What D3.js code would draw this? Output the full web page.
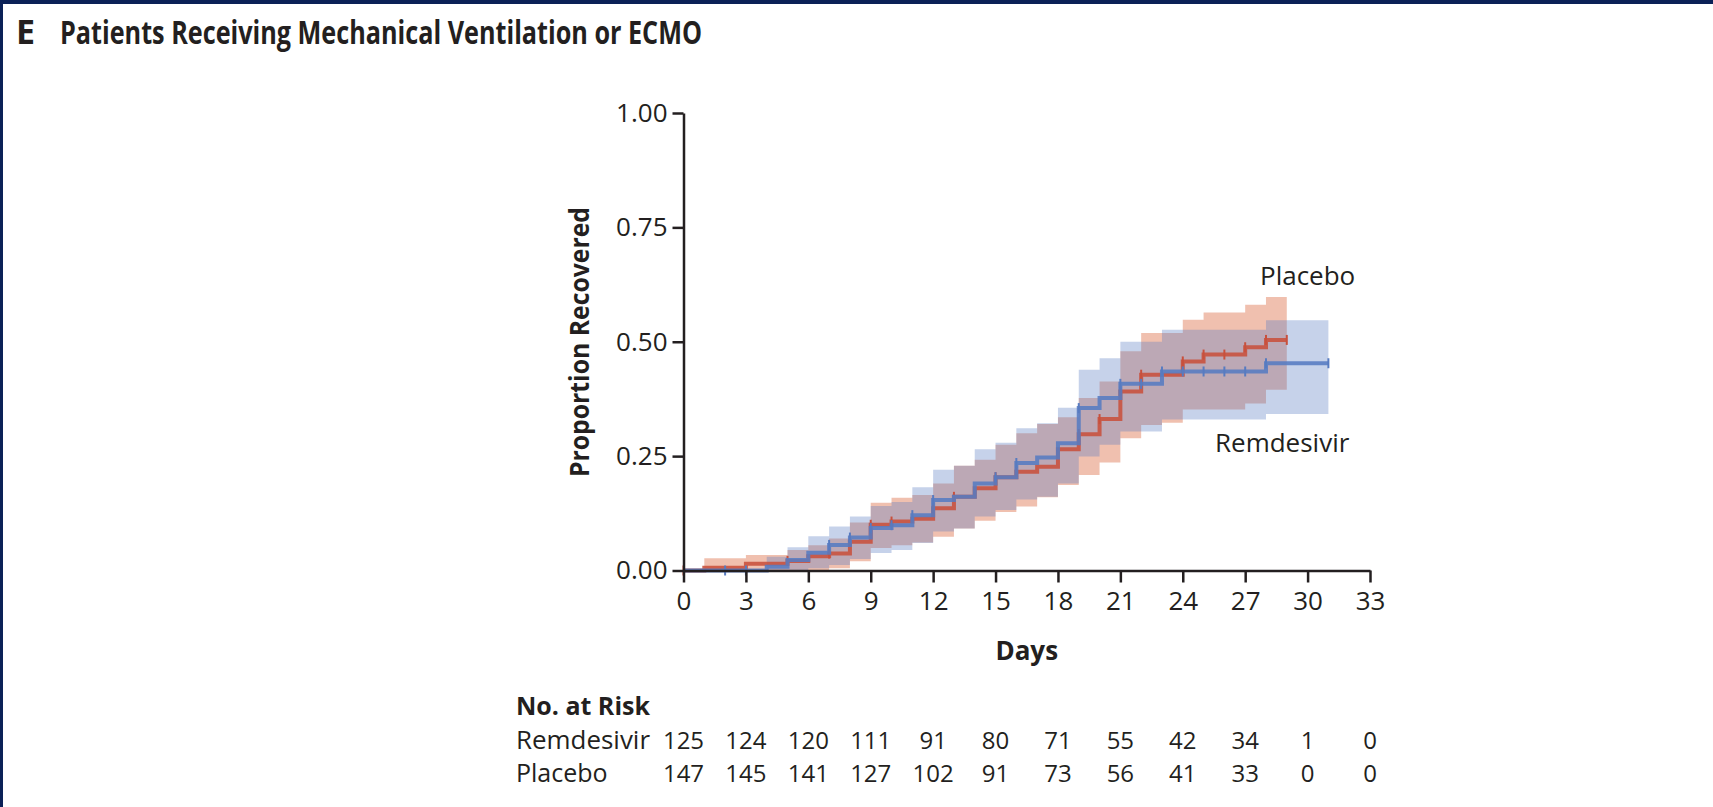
<!DOCTYPE html>
<html>
<head>
<meta charset="utf-8">
<script src="https://cdn.jsdelivr.net/npm/d3@7"></script>
<style>
  html, body { margin: 0; padding: 0; background: #fff; }
  svg { display: block; font-family: "Open Sans", "Noto Sans", sans-serif; }
  .axis path, .axis line { stroke: #231f20; stroke-width: 2.5; }
  .axis text { font-size: 26px; fill: #231f20; font-family: "Open Sans", sans-serif; }
</style>
</head>
<body>
<svg></svg>
<script>
// Remdesivir (blue) step curve with 95% band
var remDays = [0, 4, 5, 6, 7, 8, 9, 10, 11, 12, 13, 14, 15, 16, 17, 18, 19, 20, 21, 22, 23, 24, 25, 26, 27, 28, 31];
var remEst  = [0, .008, .023, .039, .056, .072, .093, .099, .121, .154, .161, .19, .204, .235, .247, .278, .355, .377, .408, .408, .435, .435, .435, .435, .435, .453, .453];
var remLow  = [0, 0, 0, .005, .012, .025, .038, .045, .06, .085, .092, .118, .132, .155, .161, .19, .249, .275, .304, .304, .33, .33, .33, .33, .33, .342, .342];
var remHigh = [0, .03, .051, .075, .096, .118, .141, .15, .182, .22, .229, .265, .279, .311, .322, .356, .439, .464, .5, .5, .526, .526, .526, .526, .526, .547, .547];
var remMarks = [2, 3, 7, 8, 9, 10, 11, 12, 15, 16, 19, 21, 22, 23, 24, 25, 26, 27, 28, 31];

// Placebo (red)
var plaDays = [0, 1, 3, 5, 6, 7, 8, 9, 10, 11, 12, 13, 14, 15, 16, 17, 18, 19, 20, 21, 22, 23, 24, 25, 26, 27, 28, 29];
var plaEst  = [0, .006, .015, .021, .031, .037, .063, .1, .107, .113, .136, .161, .18, .204, .216, .227, .265, .298, .331, .391, .428, .428, .457, .472, .472, .488, .504, .504];
var plaLow  = [0, 0, 0, 0, 0, .005, .02, .049, .055, .061, .074, .092, .109, .128, .14, .16, .187, .209, .236, .289, .318, .323, .352, .352, .352, .365, .395, .395];
var plaHigh = [0, .027, .034, .045, .055, .07, .105, .148, .159, .165, .19, .229, .242, .275, .3, .32, .335, .377, .413, .479, .519, .519, .548, .564, .564, .581, .598, .598];
var plaMarks = [0, 5, 7, 8, 9, 10, 12, 13, 15, 16, 19, 20, 21, 22, 24, 25, 26, 27, 28, 29];

var xTicks = [0, 3, 6, 9, 12, 15, 18, 21, 24, 27, 30, 33];
var yTicks = [0, 0.25, 0.5, 0.75, 1];
var remAtRisk = [125, 124, 120, 111, 91, 80, 71, 55, 42, 34, 1, 0];
var plaAtRisk = [147, 145, 141, 127, 102, 91, 73, 56, 41, 33, 0, 0];

var screen = {width: 1713, height: 807};
var ink = "#231f20";
var blue = "#577bc1";
var red = "#c8503c";

var svg = d3.select("svg")
    .attr("width", screen.width)
    .attr("height", screen.height);

// navy frame edges
svg.append("rect").attr("x", 0).attr("y", 0).attr("width", screen.width).attr("height", 4).attr("fill", "#0b2157");
svg.append("rect").attr("x", 0).attr("y", 0).attr("width", 3).attr("height", screen.height).attr("fill", "#0b2157");

var xScale = d3.scaleLinear().domain([0, 33]).range([683.5, 1370]);
var yScale = d3.scaleLinear().domain([0, 1]).range([570.5, 113]);

var toRows = function(days, est, low, high) {
    return days.map(function(d, i) {
        return {day: d, est: est[i], low: low[i], high: high[i]};
    });
}
var remRows = toRows(remDays, remEst, remLow, remHigh);
var plaRows = toRows(plaDays, plaEst, plaLow, plaHigh);

var band = d3.area()
    .curve(d3.curveStepAfter)
    .x(function(d) { return xScale(d.day); })
    .y0(function(d) { return yScale(d.low); })
    .y1(function(d) { return yScale(d.high); });

var line = d3.line()
    .curve(d3.curveStepAfter)
    .x(function(d) { return xScale(d.day); })
    .y(function(d) { return yScale(d.est); });

var plot = svg.append("g").attr("id", "plot");

plot.append("path").datum(plaRows)
    .attr("d", band)
    .attr("fill", "#dc6e46")
    .attr("fill-opacity", 0.43);

plot.append("path").datum(remRows)
    .attr("d", band)
    .attr("fill", blue)
    .attr("fill-opacity", 0.34);

var stepAt = function(rows, day) {
    var v = 0;
    rows.forEach(function(r) { if (r.day <= day) v = r.est; });
    return v;
}

var drawCurve = function(rows, marks, color) {
    plot.append("path").datum(rows)
        .attr("d", line)
        .attr("fill", "none")
        .attr("stroke", color)
        .attr("stroke-opacity", 0.88)
        .attr("stroke-width", 4);
    plot.selectAll(null)
        .data(marks)
        .enter()
        .append("line")
        .attr("x1", function(d) { return xScale(d); })
        .attr("x2", function(d) { return xScale(d); })
        .attr("y1", function(d) { return yScale(stepAt(rows, d)) - 5; })
        .attr("y2", function(d) { return yScale(stepAt(rows, d)) + 5; })
        .attr("stroke", color)
        .attr("stroke-width", 2);
}
drawCurve(plaRows, plaMarks, red);
drawCurve(remRows, remMarks, blue);

// axes
var yAxis = d3.axisLeft(yScale)
    .tickValues(yTicks)
    .tickFormat(d3.format(".2f"))
    .tickSize(11)
    .tickSizeOuter(0)
    .tickPadding(5);
var xAxis = d3.axisBottom(xScale)
    .tickValues(xTicks)
    .tickFormat(d3.format("d"))
    .tickSize(12)
    .tickSizeOuter(0)
    .tickPadding(9);

svg.append("g")
    .classed("axis", true)
    .attr("transform", "translate(" + xScale(0) + ",0)")
    .call(yAxis);

svg.append("g")
    .classed("axis", true)
    .attr("transform", "translate(0," + yScale(0) + ")")
    .call(xAxis);

svg.selectAll(".axis .domain").attr("stroke", ink);

// titles and labels
svg.append("text")
    .attr("x", 16).attr("y", 44)
    .attr("font-size", 34).attr("font-weight", 700)
    .attr("fill", ink)
    .text("E");

svg.append("text")
    .attr("x", 60).attr("y", 44)
    .attr("font-size", 33).attr("font-weight", 700)
    .attr("fill", ink)
    .attr("textLength", 642)
    .attr("lengthAdjust", "spacingAndGlyphs")
    .text("Patients Receiving Mechanical Ventilation or ECMO");

svg.append("text")
    .attr("transform", "translate(589,342) rotate(-90)")
    .attr("text-anchor", "middle")
    .attr("font-size", 26).attr("font-weight", 700)
    .attr("fill", ink)
    .attr("textLength", 270)
    .attr("lengthAdjust", "spacingAndGlyphs")
    .text("Proportion Recovered");

svg.append("text")
    .attr("x", (xScale(0) + xScale(33)) / 2).attr("y", 660)
    .attr("text-anchor", "middle")
    .attr("font-size", 26).attr("font-weight", 700)
    .attr("fill", ink)
    .text("Days");

svg.append("text")
    .attr("x", 1260).attr("y", 285)
    .attr("font-size", 26)
    .attr("fill", ink)
    .text("Placebo");

svg.append("text")
    .attr("x", 1215).attr("y", 452)
    .attr("font-size", 26)
    .attr("fill", ink)
    .text("Remdesivir");

// number at risk table
svg.append("text")
    .attr("x", 516).attr("y", 715)
    .attr("font-size", 25).attr("font-weight", 700)
    .attr("fill", ink)
    .text("No. at Risk");

var riskRows = [
    {name: "Remdesivir", counts: remAtRisk, y: 749},
    {name: "Placebo", counts: plaAtRisk, y: 782}
];

riskRows.forEach(function(row) {
    svg.append("text")
        .attr("x", 516).attr("y", row.y)
        .attr("font-size", 25)
        .attr("fill", ink)
        .attr("textLength", 134)
        .attr("lengthAdjust", "spacingAndGlyphs")
        .text(row.name)
        .attr("textLength", row.name == "Remdesivir" ? 134 : null);
    svg.selectAll(null)
        .data(row.counts)
        .enter()
        .append("text")
        .attr("x", function(d, i) { return xScale(xTicks[i]); })
        .attr("y", row.y)
        .attr("text-anchor", "middle")
        .attr("font-size", 24)
        .attr("fill", ink)
        .text(function(d) { return d; });
});
</script>
</body>
</html>
